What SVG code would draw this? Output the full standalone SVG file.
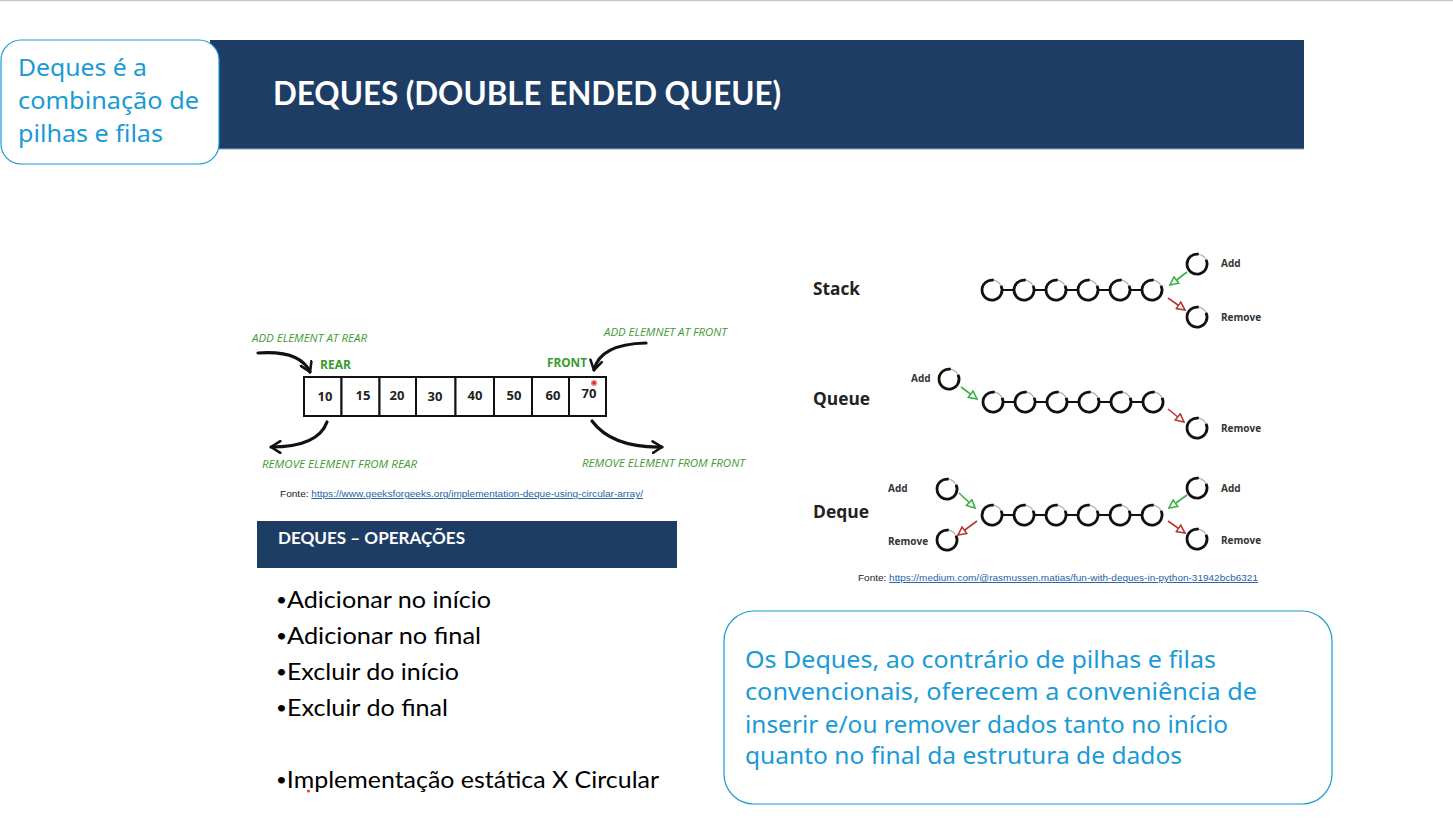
<svg xmlns="http://www.w3.org/2000/svg" xmlns:xlink="http://www.w3.org/1999/xlink" width="1453" height="818" viewBox="0 0 1453 818">
  <style>
    .navy { fill: #1e3d65; }
    .callout { fill: #ffffff; stroke: #1a9ad6; stroke-width: 1.2; }
    .callout-text { font-family: "Noto Sans", "Liberation Sans", sans-serif; fill: #1a9ad6; }
    .bullet { font-family: Lato, "Liberation Sans", sans-serif; font-size: 24px; fill: #000; }
    .dot { font-size: 18px; baseline-shift: 2px; }
    .cell { fill: #fff; stroke: #111; stroke-width: 2; }
    .num { font-family: "Open Sans", "Liberation Sans", sans-serif; font-weight: bold; font-size: 13px; fill: #222; text-anchor: middle; }
    .glab { font-family: "Open Sans", "Liberation Sans", sans-serif; font-style: italic; font-size: 10px; fill: #3f9a33; }
    .gbold { font-family: "Open Sans", "Liberation Sans", sans-serif; font-weight: bold; font-size: 12.5px; fill: #3a9a2c; }
    .curve { fill: none; stroke: #111; stroke-width: 3.2; stroke-linecap: round; }
    .src { font-family: "Liberation Sans", sans-serif; font-size: 9.5px; fill: #222; }
    .link { fill: #1f5fa8; text-decoration: underline; }
    .kind { font-family: "Open Sans", "Liberation Sans", sans-serif; font-weight: bold; font-size: 17px; fill: #222; }
    .op { font-family: "Open Sans", "Liberation Sans", sans-serif; font-weight: bold; font-size: 10px; fill: #333; }
    .chain { stroke: #111; stroke-width: 2; }
    .add { stroke: #3cb043; stroke-width: 1.6; fill: none; }
    .rem { stroke: #b53a32; stroke-width: 1.6; fill: none; }
  </style>
  <defs>
    <marker id="chev" viewBox="0 0 12 12" refX="9" refY="6" markerWidth="14" markerHeight="14" markerUnits="userSpaceOnUse" orient="auto">
      <path d="M1,1 L9,6 L1,11" fill="none" stroke="#111" stroke-width="2.2" stroke-linecap="round" stroke-linejoin="round"/>
    </marker>
    <marker id="tri-green" viewBox="0 0 10 10" refX="9" refY="5" markerWidth="10" markerHeight="10" markerUnits="userSpaceOnUse" orient="auto">
      <path d="M1,1 L9,5 L1,9 Z" fill="#fff" stroke="#3cb043" stroke-width="1.6"/>
    </marker>
    <marker id="tri-red" viewBox="0 0 10 10" refX="9" refY="5" markerWidth="10" markerHeight="10" markerUnits="userSpaceOnUse" orient="auto">
      <path d="M1,1 L9,5 L1,9 Z" fill="#fff" stroke="#b53a32" stroke-width="1.6"/>
    </marker>
    <!-- brush-style ring used for every list element -->
    <g id="ring">
      <circle r="10" fill="#fff" stroke="#aaa" stroke-width="1.2"/>
      <path d="M1.7,-9.8 A10,10 0 1 0 9.06,-4.23" fill="none" stroke="#111" stroke-width="2.8"/>
    </g>
    <!-- six linked rings, 32px apart -->
    <g id="chain6">
      <line class="chain" x1="0" y1="0" x2="160" y2="0"/>
      <use href="#ring" x="0"/>
      <use href="#ring" x="32"/>
      <use href="#ring" x="64"/>
      <use href="#ring" x="96"/>
      <use href="#ring" x="128"/>
      <use href="#ring" x="160"/>
    </g>
  </defs>

  <rect width="1453" height="818" fill="#fff"/>
  <line x1="0" y1="0.5" x2="1453" y2="0.5" stroke="#c8c8c8" stroke-width="1.5"/>

  <!-- title bar -->
  <g id="title">
    <rect class="navy" x="210" y="40" width="1094" height="109"/>
    <line x1="210" y1="149" x2="1304" y2="149" stroke="#8fa3c0" stroke-width="1"/>
    <text x="273" y="105" font-family="Lato, 'Open Sans', sans-serif" font-weight="bold" font-size="32" fill="#fff" textLength="508" lengthAdjust="spacingAndGlyphs">DEQUES (DOUBLE ENDED QUEUE)</text>
  </g>

  <!-- side note -->
  <g id="note-top">
    <rect class="callout" x="1" y="40" width="218" height="124" rx="20"/>
    <text class="callout-text" font-size="24">
      <tspan x="18" y="76" textLength="129" lengthAdjust="spacingAndGlyphs">Deques é a</tspan>
      <tspan x="18" y="109" textLength="181" lengthAdjust="spacingAndGlyphs">combinação de</tspan>
      <tspan x="18" y="142" textLength="145" lengthAdjust="spacingAndGlyphs">pilhas e filas</tspan>
    </text>
  </g>

  <!-- array deque picture -->
  <g id="array-deque">
    <text class="glab" x="252" y="342" textLength="115" lengthAdjust="spacingAndGlyphs">ADD ELEMENT AT REAR</text>
    <text class="glab" x="604" y="336" textLength="123" lengthAdjust="spacingAndGlyphs">ADD ELEMNET AT FRONT</text>
    <text class="glab" x="262" y="468" textLength="155" lengthAdjust="spacingAndGlyphs">REMOVE ELEMENT FROM REAR</text>
    <text class="glab" x="582" y="467" textLength="163" lengthAdjust="spacingAndGlyphs">REMOVE ELEMENT FROM FRONT</text>
    <text class="gbold" x="320" y="369" textLength="31" lengthAdjust="spacingAndGlyphs">REAR</text>
    <text class="gbold" x="547" y="367" textLength="40" lengthAdjust="spacingAndGlyphs">FRONT</text>

    <g id="cells">
      <rect class="cell" x="304" y="377" width="37.5" height="39"/>
      <rect class="cell" x="341.5" y="377" width="38" height="39"/>
      <rect class="cell" x="379.5" y="377" width="36.5" height="39"/>
      <rect class="cell" x="416" y="377" width="39.5" height="39"/>
      <rect class="cell" x="455.5" y="377" width="38.5" height="39"/>
      <rect class="cell" x="494" y="377" width="38" height="39"/>
      <rect class="cell" x="532" y="377" width="37" height="39"/>
      <rect class="cell" x="569" y="377" width="37" height="39"/>
      <text class="num" x="325" y="401">10</text>
      <text class="num" x="363" y="400">15</text>
      <text class="num" x="397" y="400">20</text>
      <text class="num" x="435" y="401">30</text>
      <text class="num" x="475" y="400">40</text>
      <text class="num" x="514" y="400">50</text>
      <text class="num" x="553" y="400">60</text>
      <text class="num" x="589" y="398">70</text>
      <circle cx="594" cy="383" r="3" fill="#f26a6a" opacity="0.9"/>
      <circle cx="594" cy="383" r="1.4" fill="#d81e1e"/>
    </g>

    <path class="curve" d="M258,353 Q300,350 310,372" marker-end="url(#chev)"/>
    <path class="curve" d="M646,343 Q600,344 594,370" marker-end="url(#chev)"/>
    <path class="curve" d="M327,422 Q318,447 271,447" marker-end="url(#chev)"/>
    <path class="curve" d="M592,421 Q612,448 662,447" marker-end="url(#chev)"/>

    <text class="src" x="280" y="497" textLength="363" lengthAdjust="spacingAndGlyphs">Fonte: <tspan class="link">https://www.geeksforgeeks.org/implementation-deque-using-circular-array/</tspan></text>
  </g>

  <!-- operations list -->
  <g id="operations">
    <rect class="navy" x="257" y="521" width="420" height="47"/>
    <text x="278" y="544" font-family="Lato, 'Open Sans', sans-serif" font-weight="bold" font-size="17" fill="#fff" textLength="187" lengthAdjust="spacingAndGlyphs">DEQUES – OPERAÇÕES</text>
    <text class="bullet" x="276" y="608" textLength="215" lengthAdjust="spacingAndGlyphs"><tspan class="dot">•</tspan>Adicionar no início</text>
    <text class="bullet" x="276" y="644" textLength="205" lengthAdjust="spacingAndGlyphs"><tspan class="dot">•</tspan>Adicionar no final</text>
    <text class="bullet" x="276" y="680" textLength="183" lengthAdjust="spacingAndGlyphs"><tspan class="dot">•</tspan>Excluir do início</text>
    <text class="bullet" x="276" y="716" textLength="172" lengthAdjust="spacingAndGlyphs"><tspan class="dot">•</tspan>Excluir do final</text>
    <text class="bullet" x="276" y="788" textLength="383" lengthAdjust="spacingAndGlyphs"><tspan class="dot">•</tspan>Implementação estática X Circular</text>
    <circle cx="308.5" cy="791" r="1.6" fill="#e04040"/>
  </g>

  <!-- stack / queue / deque comparison -->
  <g id="stack">
    <text class="kind" x="813" y="295" textLength="47" lengthAdjust="spacingAndGlyphs">Stack</text>
    <use href="#chain6" x="992" y="290"/>
    <use href="#ring" x="1197" y="264"/>
    <use href="#ring" x="1197" y="317"/>
    <text class="op" x="1221" y="267">Add</text>
    <text class="op" x="1221" y="321">Remove</text>
  </g>
  <g id="queue">
    <text class="kind" x="813" y="405" textLength="57" lengthAdjust="spacingAndGlyphs">Queue</text>
    <use href="#chain6" x="993" y="402"/>
    <use href="#ring" x="949" y="379"/>
    <use href="#ring" x="1197" y="428"/>
    <text class="op" x="911" y="382">Add</text>
    <text class="op" x="1221" y="432">Remove</text>
  </g>
  <g id="deque">
    <text class="kind" x="813" y="518" textLength="56" lengthAdjust="spacingAndGlyphs">Deque</text>
    <use href="#chain6" x="992" y="515"/>
    <use href="#ring" x="947" y="489"/>
    <use href="#ring" x="947" y="540"/>
    <use href="#ring" x="1197" y="488"/>
    <use href="#ring" x="1197" y="539"/>
    <text class="op" x="888" y="492">Add</text>
    <text class="op" x="888" y="545">Remove</text>
    <text class="op" x="1221" y="492">Add</text>
    <text class="op" x="1221" y="544">Remove</text>
  </g>

  <g id="connectors">
    <line class="add" x1="1187" y1="272" x2="1170" y2="285" marker-end="url(#tri-green)"/>
    <line class="rem" x1="1168" y1="298" x2="1185" y2="310" marker-end="url(#tri-red)"/>
    <line class="add" x1="961" y1="387" x2="977" y2="399" marker-end="url(#tri-green)"/>
    <line class="rem" x1="1168" y1="409" x2="1184" y2="422" marker-end="url(#tri-red)"/>
    <line class="add" x1="959" y1="493" x2="975" y2="508" marker-end="url(#tri-green)"/>
    <line class="rem" x1="977" y1="521" x2="958" y2="535" marker-end="url(#tri-red)"/>
    <line class="add" x1="1187" y1="495" x2="1169" y2="508" marker-end="url(#tri-green)"/>
    <line class="rem" x1="1168" y1="521" x2="1185" y2="533" marker-end="url(#tri-red)"/>
  </g>

  <text class="src" x="858" y="581" textLength="400" lengthAdjust="spacingAndGlyphs">Fonte: <tspan class="link">https://medium.com/@rasmussen.matias/fun-with-deques-in-python-31942bcb6321</tspan></text>

  <!-- summary note -->
  <g id="note-bottom">
    <rect class="callout" x="724" y="611" width="608" height="193" rx="30"/>
    <text class="callout-text" font-size="23">
      <tspan x="745" y="668" textLength="471" lengthAdjust="spacingAndGlyphs">Os Deques, ao contrário de pilhas e filas</tspan>
      <tspan x="745" y="700" textLength="512" lengthAdjust="spacingAndGlyphs">convencionais, oferecem a conveniência de</tspan>
      <tspan x="745" y="733" textLength="483" lengthAdjust="spacingAndGlyphs">inserir e/ou remover dados tanto no início</tspan>
      <tspan x="745" y="764" textLength="437" lengthAdjust="spacingAndGlyphs">quanto no final da estrutura de dados</tspan>
    </text>
  </g>
</svg>
